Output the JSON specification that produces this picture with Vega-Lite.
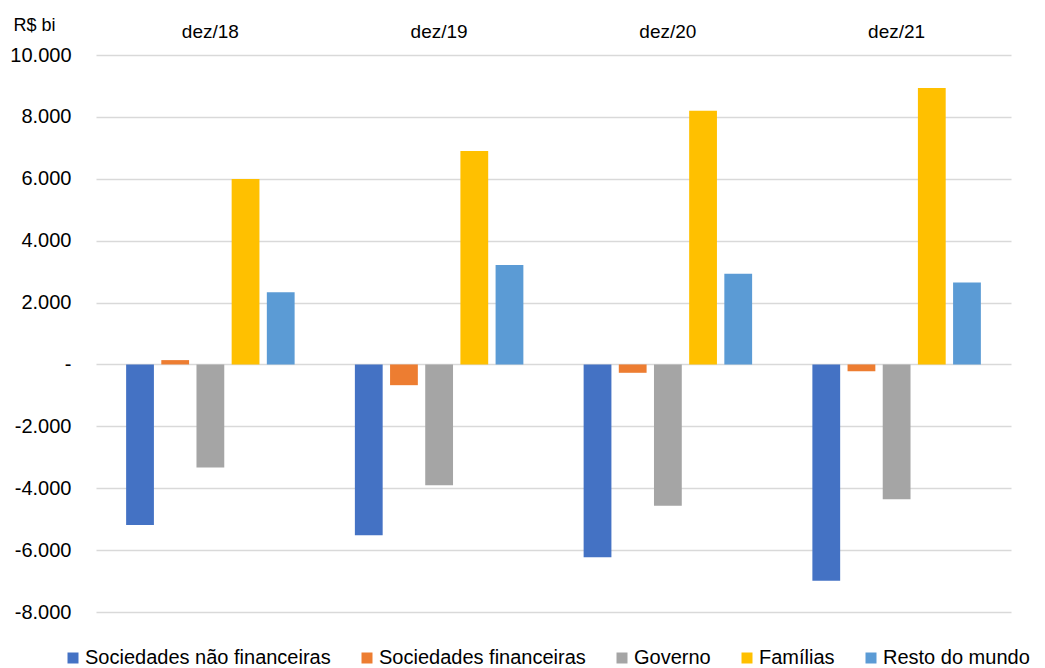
{
  "$schema": "https://vega.github.io/schema/vega-lite/v6.json",
  "width": 915,
  "height": 557,
  "autosize": {"type": "none"},
  "padding": {"left": 96, "top": 55, "right": 34, "bottom": 56},
  "background": "white",
  "data": {
    "values": [
      {"periodo": "dez/18", "setor": "Sociedades não financeiras", "valor": -5190},
      {"periodo": "dez/18", "setor": "Sociedades financeiras", "valor": 140},
      {"periodo": "dez/18", "setor": "Governo", "valor": -3330},
      {"periodo": "dez/18", "setor": "Famílias", "valor": 5990},
      {"periodo": "dez/18", "setor": "Resto do mundo", "valor": 2330},
      {"periodo": "dez/19", "setor": "Sociedades não financeiras", "valor": -5520},
      {"periodo": "dez/19", "setor": "Sociedades financeiras", "valor": -670},
      {"periodo": "dez/19", "setor": "Governo", "valor": -3900},
      {"periodo": "dez/19", "setor": "Famílias", "valor": 6900},
      {"periodo": "dez/19", "setor": "Resto do mundo", "valor": 3210},
      {"periodo": "dez/20", "setor": "Sociedades não financeiras", "valor": -6230},
      {"periodo": "dez/20", "setor": "Sociedades financeiras", "valor": -270},
      {"periodo": "dez/20", "setor": "Governo", "valor": -4570},
      {"periodo": "dez/20", "setor": "Famílias", "valor": 8200},
      {"periodo": "dez/20", "setor": "Resto do mundo", "valor": 2930},
      {"periodo": "dez/21", "setor": "Sociedades não financeiras", "valor": -6990},
      {"periodo": "dez/21", "setor": "Sociedades financeiras", "valor": -220},
      {"periodo": "dez/21", "setor": "Governo", "valor": -4360},
      {"periodo": "dez/21", "setor": "Famílias", "valor": 8930},
      {"periodo": "dez/21", "setor": "Resto do mundo", "valor": 2650}
    ]
  },
  "mark": {"type": "bar"},
  "encoding": {
    "x": {
      "field": "periodo",
      "type": "nominal",
      "sort": ["dez/18", "dez/19", "dez/20", "dez/21"],
      "scale": {"paddingInner": 0.2634, "paddingOuter": 0.1317},
      "axis": {
        "orient": "top",
        "title": null,
        "domain": false,
        "ticks": false,
        "tickSize": 0,
        "labelAngle": 0,
        "labelFont": "Liberation Sans",
        "labelFontSize": 19,
        "labelColor": "#000000",
        "labelBaseline": "alphabetic",
        "labelPadding": 18
      }
    },
    "xOffset": {
      "field": "setor",
      "type": "nominal",
      "sort": ["Sociedades não financeiras", "Sociedades financeiras", "Governo", "Famílias", "Resto do mundo"],
      "scale": {"paddingInner": 0.21, "paddingOuter": 0}
    },
    "y": {
      "field": "valor",
      "type": "quantitative",
      "scale": {"domain": [-8000, 10000], "nice": false, "zero": false},
      "axis": {
        "values": [-8000, -6000, -4000, -2000, 0, 2000, 4000, 6000, 8000, 10000],
        "title": "R$ bi",
        "titleAngle": 0,
        "titleAlign": "left",
        "titleBaseline": "alphabetic",
        "titleX": -83,
        "titleY": -25,
        "titleFont": "Liberation Sans",
        "titleFontSize": 18,
        "titleFontWeight": "normal",
        "titleColor": "#000000",
        "domain": false,
        "ticks": false,
        "tickSize": 0,
        "labelPadding": 25,
        "labelFont": "Liberation Sans",
        "labelFontSize": 20,
        "labelColor": "#000000",
        "gridColor": "#d9d9d9",
        "gridWidth": 1.5,
        "labelExpr": "datum.value == 0 ? '-\u00a0\u00a0' : (datum.value < 0 ? '-' : '') + replace(format(abs(datum.value), ','), ',', '.')"
      }
    },
    "color": {
      "field": "setor",
      "type": "nominal",
      "sort": ["Sociedades não financeiras", "Sociedades financeiras", "Governo", "Famílias", "Resto do mundo"],
      "scale": {
        "domain": ["Sociedades não financeiras", "Sociedades financeiras", "Governo", "Famílias", "Resto do mundo"],
        "range": ["#4472C4", "#ED7D31", "#A5A5A5", "#FFC000", "#5B9BD5"]
      },
      "legend": {
        "orient": "none",
        "direction": "horizontal",
        "columns": 5,
        "title": null,
        "padding": 0,
        "symbolType": "square",
        "symbolSize": 121,
        "symbolStrokeWidth": 0,
        "symbolOpacity": 1,
        "labelFont": "Liberation Sans",
        "labelFontSize": 20,
        "labelColor": "#000000",
        "labelOffset": 2,
        "labelLimit": 400,
        "columnPadding": 26,
        "legendX": -33,
        "legendY": 593
      }
    }
  },
  "config": {"view": {"stroke": null}}
}
